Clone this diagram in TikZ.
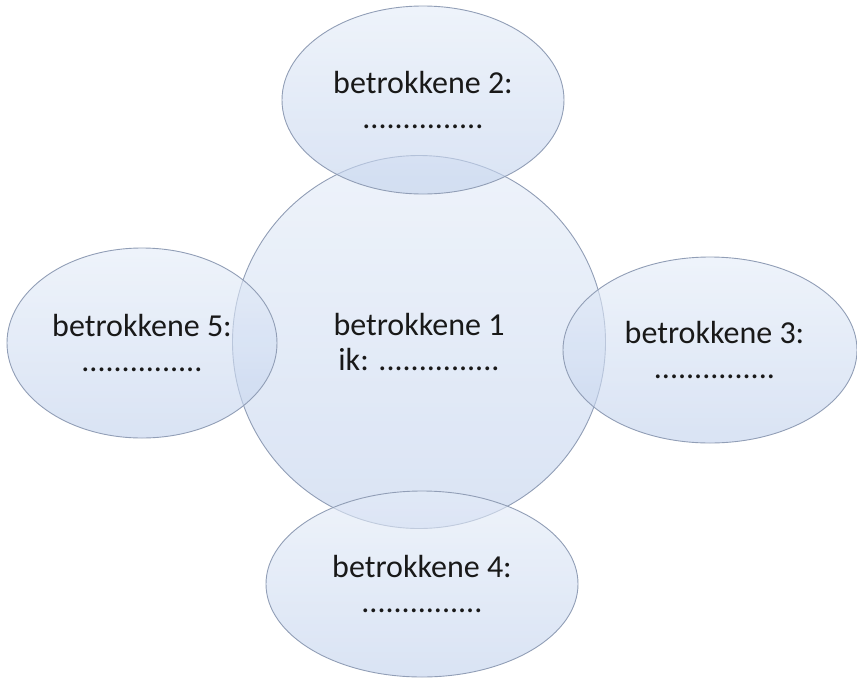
\documentclass[tikz,border=0pt]{standalone}
\usepackage{fontspec}
\setmainfont{Carlito}
\usetikzlibrary{shapes.geometric}
\definecolor{topc}{RGB}{228,236,248}
\definecolor{botc}{RGB}{194,210,237}
\definecolor{edgec}{RGB}{145,158,182}
\tikzset{
  bubble/.style={ellipse, draw=edgec, line width=0.9pt, top color=topc, bottom color=botc,
    fill opacity=0.62, draw opacity=1, text opacity=1, inner sep=0pt, align=center,
    font=\fontsize{32}{35}\selectfont, text=black!90},
}
\begin{document}
\begin{tikzpicture}[x=1pt,y=-1pt]
\useasboundingbox (0,0) rectangle (857,678);
\node[bubble, minimum width=373pt, minimum height=373pt] (c) at (419,342) {betrokkene 1\\ik: ...............};
\node[bubble, minimum width=282pt, minimum height=188pt] (t) at (423,100) {betrokkene 2:\\...............};
\node[bubble, minimum width=294pt, minimum height=186pt] (r) at (710,350) {\hspace*{9pt}betrokkene 3:\\\hspace*{9pt}...............};
\node[bubble, minimum width=270pt, minimum height=190pt] (l) at (142,343) {betrokkene 5:\\...............};
\node[bubble, minimum width=312pt, minimum height=186pt] (b) at (422,584) {betrokkene 4:\\...............};
\end{tikzpicture}
\end{document}
